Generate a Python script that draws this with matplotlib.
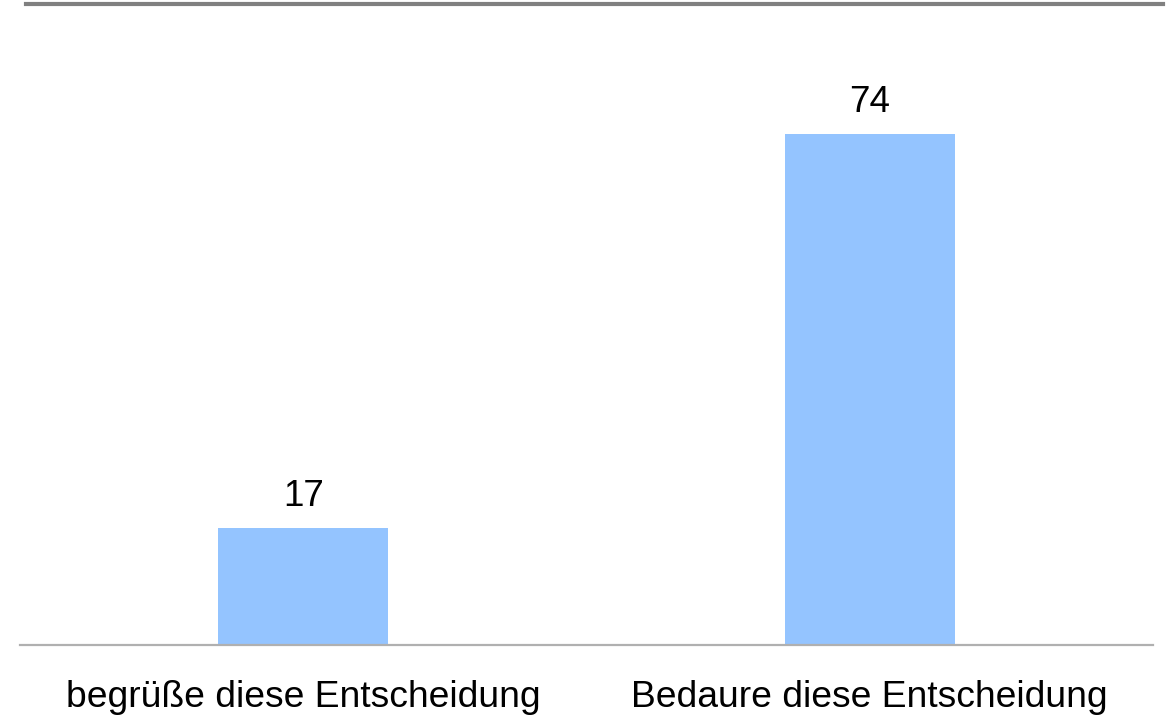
import matplotlib
matplotlib.use("Agg")
import matplotlib.pyplot as plt
from matplotlib.lines import Line2D

categories = ["begrüße diese Entscheidung", "Bedaure diese Entscheidung"]
values = [17, 74]

plt.rcParams['font.family'] = ['Liberation Sans', 'DejaVu Sans']

W, H = 1168, 721
fig = plt.figure(figsize=(W / 100, H / 100), dpi=100)
ax = fig.add_axes([20 / W, 76 / H, 1133 / W, 621 / H])

x = list(range(len(categories)))
bars = ax.bar(x, values, width=0.3, color="#94c4ff", zorder=2)
ax.set_xlim(-0.5, 1.5)
ax.set_ylim(0, 90)

for xi, v in zip(x, values):
    ax.annotate(str(v), (xi, v), xytext=(0, 14), textcoords="offset pixels",
                ha="center", va="bottom", fontsize=26.5, color="#000000")

ax.set_xticks(x)
ax.set_xticklabels(categories, fontsize=26.8)
ax.tick_params(axis="x", length=0, pad=25)
ax.set_yticks([])
for s in ["top", "left", "right"]:
    ax.spines[s].set_visible(False)
ax.spines["bottom"].set_color("#b0b0b0")
ax.spines["bottom"].set_linewidth(1.6)

fig.add_artist(Line2D([26 / W, 1163 / W], [1 - 4 / H, 1 - 4 / H],
                      color="#808080", linewidth=3.0, transform=fig.transFigure))

fig.savefig("out.png", dpi=100)
